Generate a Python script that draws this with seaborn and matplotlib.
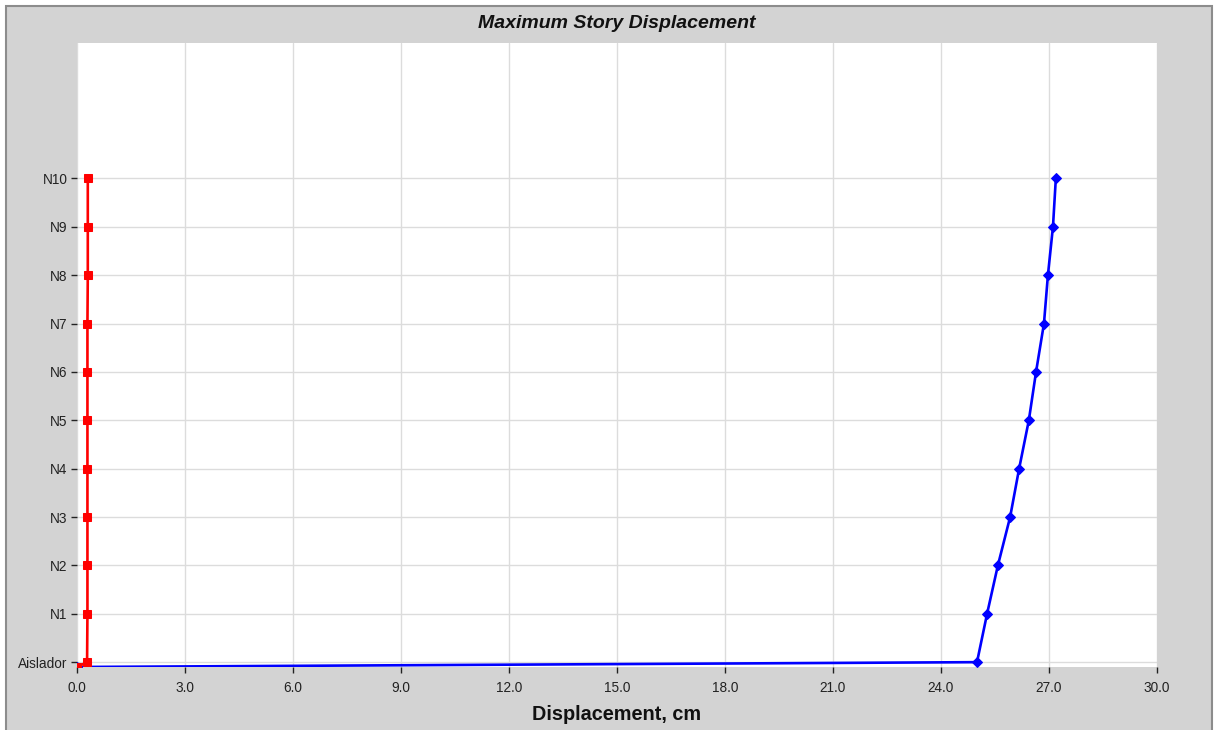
import numpy as np
import pandas as pd
import matplotlib
matplotlib.use("Agg")
import matplotlib.pyplot as plt
from matplotlib.patches import Rectangle
import seaborn as sns

# story names and elevations (m); Base sits just under the isolator
stories = ["Base", "Aislador", "N1", "N2", "N3", "N4", "N5", "N6", "N7", "N8", "N9", "N10"]
elev = [0.0, 0.3, 3.3, 6.3, 9.3, 12.3, 15.3, 18.3, 21.3, 24.3, 27.3, 30.3]

# maximum displacements (cm)
disp_x = [0.0, 25.0, 25.28, 25.58, 25.92, 26.17, 26.44, 26.64, 26.86, 26.97, 27.11, 27.19]
disp_y = [0.0, 0.28, 0.29, 0.29, 0.29, 0.29, 0.29, 0.29, 0.29, 0.3, 0.3, 0.3]

x_ticks = np.arange(0, 30.1, 3.0)

df = pd.DataFrame({"story": stories, "elev": elev, "dx": disp_x, "dy": disp_y})

sns.set_style("white")
plt.rcParams["font.family"] = ["Liberation Sans", "DejaVu Sans"]

fig = plt.figure(figsize=(12.14, 7.30), dpi=100, facecolor="white")
# gray panel with dark frame
fig.patches.append(Rectangle((6 / 1214, -0.01), (1212 - 6) / 1214, 1 - 6 / 730 + 0.01,
                             transform=fig.transFigure, facecolor="#d3d3d3",
                             edgecolor="#8c8c8c", linewidth=1.5, zorder=-10))

ax = fig.add_axes([77 / 1214, 1 - 667 / 730, (1157 - 77) / 1214, (667 - 43) / 730])
ax.set_facecolor("white")

sns.lineplot(data=df, x="dx", y="elev", sort=False, estimator=None, ax=ax,
             color="#0000ff", linewidth=1.9, marker="D", markersize=5.2,
             markeredgecolor="#0000ff", zorder=3)
sns.lineplot(data=df, x="dy", y="elev", sort=False, estimator=None, ax=ax,
             color="#ff0000", linewidth=1.9, marker="s", markersize=5.5,
             markeredgecolor="#ff0000", zorder=4)

ax.set_xlim(0, 30)
ax.set_ylim(0, 38.7)
ax.set_xticks(x_ticks)
ax.set_xticklabels([f"{t:.1f}" for t in x_ticks])
ax.set_yticks(elev[1:])
ax.set_yticklabels(stories[1:])
ax.grid(True, color="#dcdcdc", linewidth=1)
ax.set_axisbelow(True)
for s in ax.spines.values():
    s.set_visible(False)
ax.tick_params(axis="both", which="major", direction="out", length=4, width=1,
               color="#222222", labelsize=9.8, labelcolor="#222222",
               bottom=True, left=True)
ax.tick_params(axis="y", pad=3)
ax.tick_params(axis="x", pad=6)

ax.set_ylabel("")
ax.set_xlabel("Displacement, cm", fontsize=14.3, fontweight="bold", color="#111111", labelpad=7)
fig.text(617 / 1214, 1 - 23 / 730, "Maximum Story Displacement", ha="center", va="center",
         fontsize=14, fontweight="bold", fontstyle="italic", color="#111111")

fig.savefig("out.png", dpi=100, facecolor=fig.get_facecolor())
